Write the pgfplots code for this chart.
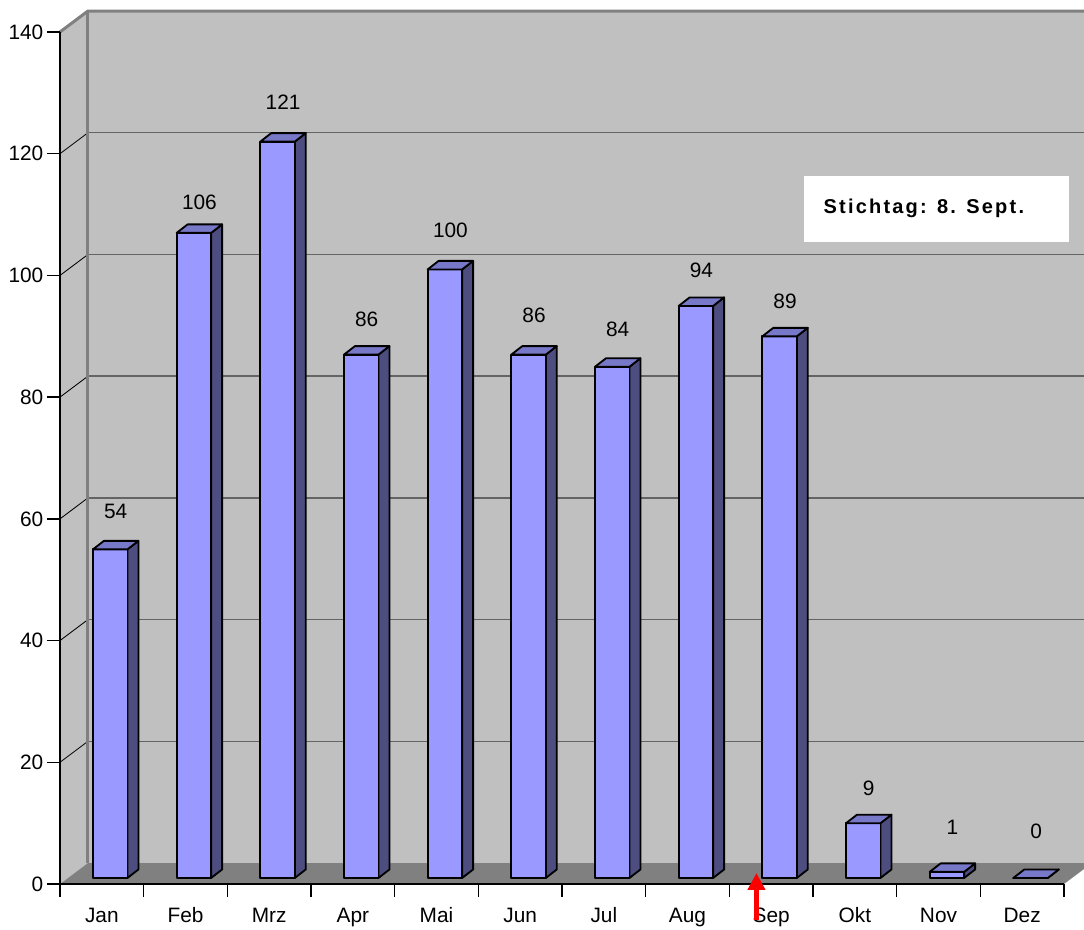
\documentclass[border=0pt]{standalone}
\usepackage{pgfplots}
\pgfplotsset{compat=1.18}
\usepackage{pgfplotstable}
\usetikzlibrary{arrows.meta}
\usepackage{fontspec}
\setmainfont{Liberation Sans}
\newfontfamily\boxfont[LetterSpace=11]{Liberation Sans}
\definecolor{wallc}{RGB}{192,192,192}
\definecolor{floorc}{RGB}{128,128,128}
\definecolor{edgec}{RGB}{128,128,128}
\definecolor{gridc}{RGB}{100,100,100}
\definecolor{barfront}{RGB}{153,153,255}
\definecolor{bartop}{RGB}{120,120,200}
\definecolor{barside}{RGB}{77,77,128}

\pgfplotstableread{
i v ly
0 54 61.29
1 106 112.06
2 121 128.49
3 86 92.84
4 100 107.46
5 86 93.5
6 84 91.19
7 94 100.89
8 89 95.79
9 9 15.77
10 1 9.3
11 0 8.6
}\data

\def\dxw{0.3345}
\def\dyw{3.45}

\begin{document}
\begin{tikzpicture}
\begin{axis}[
  x=50.2pt, y=3.6514pt,
  xmin=0, xmax=12, ymin=0, ymax=140,
  clip=false,
  axis on top,
  axis x line*=bottom, axis y line*=left,
  axis line style={black, line width=1pt},
  tick style={black, line width=0.8pt},
  tick align=outside,
  major tick length=7.8pt,
  xtick={0,...,12},
  x tick label as interval,
  xticklabels={Jan,Feb,Mrz,Apr,Mai,Jun,Jul,Aug,Sep,Okt,Nov,Dez},
  ytick={0,20,...,140},
  /pgf/number format/assume math mode=true,
  ticklabel style={font=\fontsize{12.5}{14}\selectfont},
  yticklabel style={anchor=east, inner sep=0pt, xshift=-2pt},
  xticklabel style={anchor=base, inner sep=0pt, yshift=-15pt},
]
% side wall and back wall
\addplot[fill=wallc, draw=none] coordinates {(0,0) (\dxw,\dyw) (\dxw,140+\dyw) (0,140)} --cycle;
\addplot[fill=wallc, draw=none] coordinates {(\dxw,\dyw) (12+\dxw,\dyw) (12+\dxw,140+\dyw) (\dxw,140+\dyw)} --cycle;
% floor
\addplot[fill=floorc, draw=none] coordinates {(0,0) (12,0) (12+\dxw,\dyw) (\dxw,\dyw)} --cycle;
% grid lines
\pgfplotsinvokeforeach{20,40,60,80,100,120}{
  \addplot[gridc, line width=0.9pt] coordinates {(\dxw,#1+\dyw) (12+\dxw,#1+\dyw)};
  \addplot[black, line width=0.5pt] coordinates {(0,#1) (\dxw,#1+\dyw)};
}
% wall edges
\addplot[edgec, line width=1.8pt] coordinates {(\dxw,\dyw) (\dxw,140+\dyw)};
\addplot[edgec, line width=1.8pt] coordinates {(0,140) (\dxw,140+\dyw) (12+\dxw,140+\dyw)};
% bars
\pgfplotsforeachungrouped \i in {0,...,11}{%
  \pgfplotstablegetelem{\i}{v}\of\data
  \pgfmathsetmacro\xl{\i+0.394}%
  \pgfmathsetmacro\xr{\i+0.806}%
  \pgfmathsetmacro\xlb{\xl+0.1314}%
  \pgfmathsetmacro\xrb{\xr+0.1314}%
  \pgfmathsetmacro\yt{0.986+\pgfplotsretval}%
  \pgfmathsetmacro\ytb{\yt+1.4}%
  \edef\tmp{%
   \noexpand\addplot[fill=barside, draw=black, line width=1.1pt, line join=round] coordinates {(\xr,0.986) (\xrb,2.386) (\xrb,\ytb) (\xr,\yt)} --cycle;
   \noexpand\addplot[fill=barfront, draw=black, line width=1.1pt, line join=round] coordinates {(\xl,0.986) (\xr,0.986) (\xr,\yt) (\xl,\yt)} --cycle;
   \noexpand\addplot[fill=bartop, draw=black, line width=1.1pt, line join=round] coordinates {(\xl,\yt) (\xr,\yt) (\xrb,\ytb) (\xlb,\ytb)} --cycle;
  }\tmp
}
% value labels
\addplot[draw=none, nodes near coords, point meta=explicit symbolic,
  every node near coord/.append style={anchor=center, inner sep=0pt, font=\fontsize{12.5}{14}\selectfont}]
  table[x expr=\thisrow{i}+0.666, y=ly, meta=v] {\data};
% annotation box
\node[fill=white, minimum width=159pt, minimum height=39.6pt, inner sep=0pt] (sbox)
  at (axis cs:10.472,110.91) {};
\node[anchor=west, inner sep=0pt] at ([xshift=12pt, yshift=0.6pt]sbox.west)
  {\boxfont\bfseries\fontsize{12}{14}\selectfont Stichtag: 8. Sept.};
\coordinate (arrtip) at (axis cs:8.324,1.81);
\coordinate (arrbase) at (axis cs:8.324,-5.92);
\coordinate (bbsw) at ([xshift=-36pt, yshift=-27pt]axis cs:0,0);
\coordinate (bbne) at ([xshift=614.4pt, yshift=530.4pt]axis cs:0,0);
\end{axis}
\draw[red, line width=3pt, -{Triangle[width=10.2pt, length=10.2pt]}] (arrbase) -- (arrtip);
\pgfresetboundingbox
\path[use as bounding box] (bbsw) rectangle (bbne);
\end{tikzpicture}
\end{document}
